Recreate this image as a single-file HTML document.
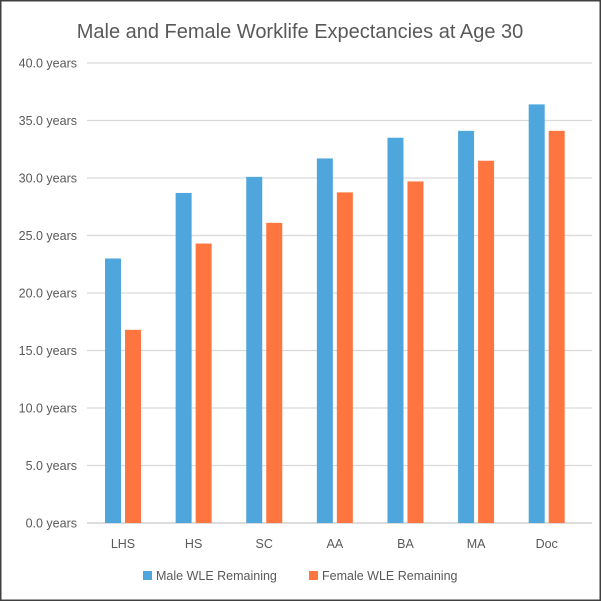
<!DOCTYPE html>
<html><head><meta charset="utf-8"><style>
html,body{margin:0;padding:0;background:#fff}
svg{display:block;font-family:"Liberation Sans",sans-serif}
</style></head><body>
<svg width="601" height="601" viewBox="0 0 601 601">
<rect x="0.5" y="0.5" width="600" height="600" fill="#fff" stroke="#404040" stroke-width="2"/>
<text x="300" y="38" text-anchor="middle" font-size="20" fill="#595959">Male and Female Worklife Expectancies at Age 30</text>
<g id="grid"></g><g id="bars"></g><g id="xlabels"></g>
<g>
<rect x="143" y="571" width="9" height="9" fill="#4ea6dc"/>
<text x="156" y="580" font-size="12.5" fill="#595959">Male WLE Remaining</text>
<rect x="309" y="571" width="9" height="9" fill="#ff7540"/>
<text x="322" y="580" font-size="12.5" fill="#595959">Female WLE Remaining</text>
</g>
</svg>
<script>
const categories=["LHS","HS","SC","AA","BA","MA","Doc"];
const maleValues=[23.0,28.7,30.1,31.7,33.5,34.1,36.4];
const femaleValues=[16.8,24.3,26.1,28.75,29.7,31.5,34.1];
const yTicks=[0,5,10,15,20,25,30,35,40];
const NS="http://www.w3.org/2000/svg";
const plotL=87.7,plotR=582,y0=523,yTop=63,yMax=40;
const y=v=>y0-(y0-yTop)*v/yMax;
const band=(plotR-plotL)/categories.length;
const x=i=>plotL+band*i+band/2;
function mk(t,a,p){const e=document.createElementNS(NS,t);for(const k in a)e.setAttribute(k,a[k]);p.appendChild(e);return e;}
const grid=document.getElementById('grid');
yTicks.forEach(v=>{
 const l=mk('line',{x1:87,x2:592,y1:y(v),y2:y(v),stroke:v===0?'#c8c8c8':'#d9d9d9','stroke-width':1.3},grid);
 
 
 const t=mk('text',{x:77,y:y(v)+4.5,'text-anchor':'end','font-size':12.5,fill:'#595959'},grid);
 t.textContent=v.toFixed(1)+' years';
 
 
});
const bars=document.getElementById('bars'),xl=document.getElementById('xlabels');
const bw=16,gap=4;
categories.forEach((c,i)=>{
 const cx=x(i);
 const m=mk('rect',{x:cx-gap/2-bw,y:y(maleValues[i]),width:bw,height:y0-y(maleValues[i]),fill:'#4ea6dc'},bars);
 
 
 const f=mk('rect',{x:cx+gap/2,y:y(femaleValues[i]),width:bw,height:y0-y(femaleValues[i]),fill:'#ff7540'},bars);
 
 
 const t=mk('text',{x:cx,y:548,'text-anchor':'middle','font-size':12.5,fill:'#595959'},xl);
 t.textContent=c;
 
 
});
</script>
</body></html>
